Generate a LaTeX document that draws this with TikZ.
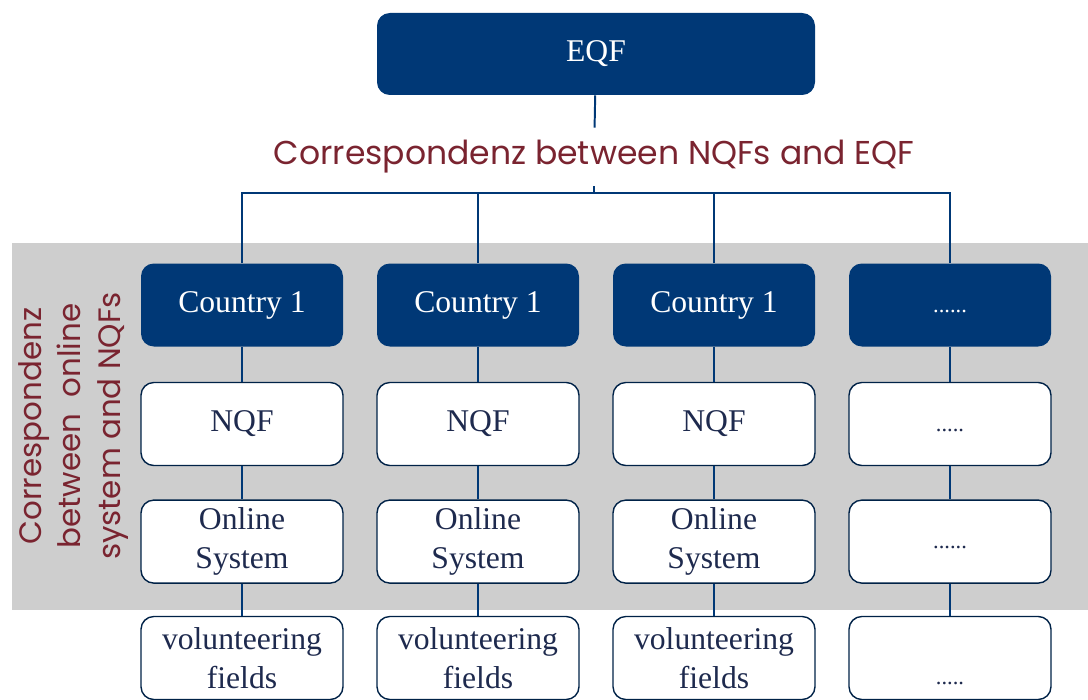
\documentclass[tikz,border=0pt]{standalone}
\usepackage{fontspec}
\setmainfont{Liberation Serif}
\newfontfamily\gothic{Poppins}
\usetikzlibrary{positioning}
\definecolor{navy}{RGB}{0,56,118}
\definecolor{wine}{RGB}{122,36,48}
\definecolor{panel}{RGB}{206,206,206}
\definecolor{ink}{RGB}{30,42,78}
\def\rowC{-7.625}
\def\rowN{-10.6}
\def\rowS{-13.54}
\def\rowV{-16.45}
\newcommand\dotline[1]{\vphantom{Ag}{\fontsize{16}{20}\selectfont #1}}
\tikzstyle{link} = [draw=navy,line width=1.4pt]

\begin{document}
\begin{tikzpicture}
    \tikzstyle{block}=[rectangle,rounded corners=0.32cm,minimum width=5.05cm,minimum height=2.075cm,align=center,inner sep=2pt,font=\fontsize{22.5}{27.5}\selectfont]
    \tikzstyle{country}=[block,fill=navy,text=white]
    \tikzstyle{level}=[block,fill=white,draw=navy!60!black,line width=1pt,text=ink]
    \tikzstyle{note}=[text=wine,font=\gothic\fontsize{22}{28}\selectfont]

    \useasboundingbox (0,0) rectangle (27.2,-17.5);

    % grey band behind the national levels
    \fill[panel] (0.3,-6.075) rectangle (27.2,-15.25);

    % Draw the EQF node and its label
    \node[country,minimum width=10.95cm,minimum height=2.05cm] (EQF) at (14.9,-1.35) {EQF};
    \node[note,font=\gothic\fontsize{23.5}{28}\selectfont,minimum height=1.45cm,inner ysep=0pt] (T) at (14.85,-3.925) {Correspondenz between NQFs and EQF};
    \node[note,rotate=90,align=center] (side) at (1.83,-10.65) {Correspondenz\\between~~online\\system and NQFs};

    % Draw the country columns
    \foreach \name / \x in {1/6.05,2/11.95,3/17.85}
    {
        \node[country] (C-\name) at (\x,\rowC) {Country 1};
        \node[level] (N-\name) at (\x,\rowN) {NQF};
        \node[level] (S-\name) at (\x,\rowS) {Online\\System};
        \node[level] (V-\name) at (\x,\rowV) {volunteering\\fields};
    }

    % Draw the open column
    \node[country] (C-4) at (23.75,\rowC) {\dotline{......}};
    \node[level] (N-4) at (23.75,\rowN) {\dotline{.....}};
    \node[level] (S-4) at (23.75,\rowS) {\dotline{......}};
    \node[level] (V-4) at (23.75,\rowV) {\vphantom{Ag}\\\dotline{.....}};

    % Draw the connectors
    \draw[link] (EQF) -- (T);
    \draw[link] (T) -- ++(0,-0.9) coordinate (B);
    \foreach \name in {1,...,4}
    {
        \draw[link] (C-\name.north) |- (B);
        \draw[link] (C-\name) -- (N-\name);
        \draw[link] (N-\name) -- (S-\name);
        \draw[link] (S-\name) -- (V-\name);
    }
\end{tikzpicture}
\end{document}
